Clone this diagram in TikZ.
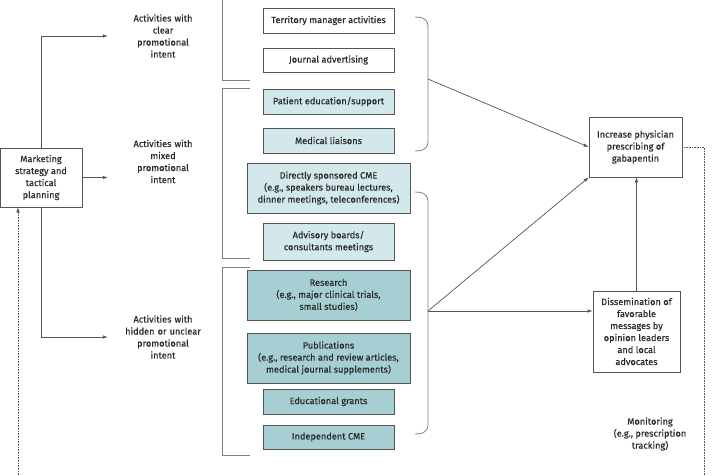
\documentclass[tikz,border=0pt]{standalone}
\usepackage{fontspec}
\setmainfont{Fira Sans}[FakeBold=0.4]
\usepackage{tikz}
\usetikzlibrary{arrows.meta,positioning}
\definecolor{lineg}{HTML}{555555}
\definecolor{brackg}{HTML}{808080}
\definecolor{textg}{HTML}{2A2A2A}
\definecolor{mixteal}{HTML}{D3E8EA}
\definecolor{hidteal}{HTML}{A5CFD2}
\tikzset{
  actbox/.style={draw=lineg,line width=0.7pt,fill=white,align=center,text=textg,
    minimum width=131pt,minimum height=25pt,inner sep=1pt},
  widebox/.style={actbox,minimum width=163pt,minimum height=50pt},
  outbox/.style={draw=lineg,line width=0.7pt,align=center,text=textg,inner sep=1pt},
  grouplabel/.style={align=center,text=textg,text width=108pt,inner sep=1pt},
  bracket/.style={draw=brackg,line width=0.8pt},
  flow/.style={draw=lineg,line width=0.7pt,->},
  monitor/.style={draw=lineg,line width=0.6pt,dash pattern=on 0.8pt off 0.8pt}
}
\begin{document}
\begin{tikzpicture}[x=1pt,y=-1pt,>={Latex[length=5pt,width=3.6pt]},
  font=\fontsize{9.2}{12}\selectfont]
\useasboundingbox (0,0) rectangle (712,475);
\node[outbox,minimum width=82pt,minimum height=59pt] (plan) at (41,177.5) {Marketing\\strategy and\\tactical\\planning};
\node[grouplabel] (clear) at (163,36) {Activities with\\clear\\promotional\\intent};
\node[grouplabel] (mixed) at (163,161.5) {Activities with\\mixed\\promotional\\intent};
\node[grouplabel] (hidden) at (163,337) {Activities with\\hidden or unclear\\promotional\\intent};
\draw[flow] (plan.north) |- (clear.west);
\draw[flow] (plan.east) -- (plan.east -| mixed.west);
\draw[flow] (plan.south) |- (hidden.west);
\node[actbox] (terr) at (328.5,20.5) {Territory manager activities};
\node[actbox,minimum height=24pt] (journ) at (328.5,60) {Journal advertising};
\node[actbox,fill=mixteal] (patient) at (328.5,101.5) {Patient education/support};
\node[actbox,fill=mixteal] (liaison) at (328.5,140.5) {Medical liaisons};
\node[widebox,fill=mixteal] (dcme) at (328.5,188) {Directly sponsored CME\\(e.g., speakers bureau lectures,\\dinner meetings, teleconferences)};
\node[actbox,fill=mixteal,minimum height=37pt] (advis) at (328.5,241.5) {Advisory boards/\\consultants meetings};
\node[widebox,fill=hidteal] (research) at (328.5,295) {Research\\(e.g., major clinical trials,\\small studies)};
\node[widebox,fill=hidteal] (pubs) at (328.5,358) {Publications\\(e.g., research and review articles,\\medical journal supplements)};
\node[actbox,fill=hidteal] (grants) at (328.5,401.5) {Educational grants};
\node[actbox,fill=hidteal,minimum height=24pt] (icme) at (328.5,437) {Independent CME};
\draw[bracket] (250,80) -- (222,80) -- (222,0);
\draw[bracket] (250,88) -- (222,88) -- (222,258) -- (250,258);
\draw[bracket] (250,267) -- (222,267) -- (222,455) -- (250,455);
\draw[bracket,rounded corners=8pt] (415,17) -- (428,18) -- (428,150) -- (415,151);
\draw[bracket,rounded corners=8pt] (415,192) -- (428,193) -- (428,433) -- (415,434);
\coordinate (b1) at (428,79);
\coordinate (b2) at (428,311);
\node[outbox,minimum width=93pt,minimum height=60pt] (inc) at (635.5,147) {Increase physician\\prescribing of\\gabapentin};
\node[outbox,minimum width=87pt,minimum height=81pt] (diss) at (636.5,331.5) {Dissemination of\\favorable\\messages by\\opinion leaders\\and local\\advocates};
\draw[flow] (b1) -- (inc.west);
\draw[flow] (b2) -- (inc.south west);
\draw[flow] (b2) -- (b2 -| diss.west);
\draw[flow] (diss.north) -- (diss.north |- inc.south);
\node[align=center,text=textg] (monit) at (650,434) {Monitoring\\(e.g., prescription\\tracking)};
\coordinate (rbot) at (704,475);
\coordinate (lbot) at (18,475);
\draw[monitor] (inc.east) -| (rbot);
\draw[monitor,->] (lbot) -- (lbot |- plan.south);
\end{tikzpicture}
\end{document}
